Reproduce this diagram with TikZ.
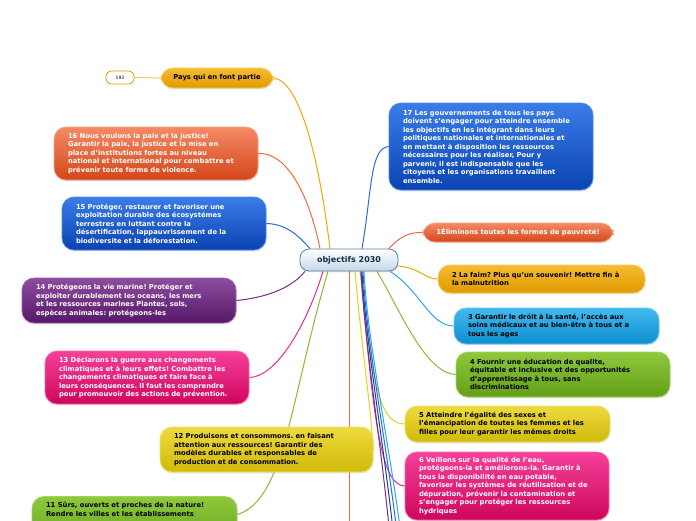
\documentclass[tikz,border=0pt]{standalone}
\usepackage{fontspec}
\setmainfont{DejaVu Sans}
\frenchspacing
\usetikzlibrary{shadows,backgrounds}
\definecolor{orT}{HTML}{F6BC30}\definecolor{orB}{HTML}{E09A00}\definecolor{orD}{HTML}{F8CA58}
\definecolor{rdT}{HTML}{F58A65}\definecolor{rdB}{HTML}{D4461A}\definecolor{rdD}{HTML}{F5A585}
\definecolor{blT}{HTML}{3A7CE8}\definecolor{blB}{HTML}{0A44B2}\definecolor{blD}{HTML}{4A88EE}
\definecolor{puT}{HTML}{8E4C9E}\definecolor{puB}{HTML}{561868}\definecolor{puD}{HTML}{9A5EAA}
\definecolor{pkT}{HTML}{F5409A}\definecolor{pkB}{HTML}{CE065C}\definecolor{pkD}{HTML}{F76AB0}
\definecolor{yeT}{HTML}{EEDA3E}\definecolor{yeB}{HTML}{D0BA0A}\definecolor{yeD}{HTML}{F2E060}
\definecolor{grT}{HTML}{8EC83C}\definecolor{grB}{HTML}{62A018}\definecolor{grD}{HTML}{A2D45A}
\definecolor{cyT}{HTML}{42BAF0}\definecolor{cyB}{HTML}{0E8ECE}\definecolor{cyD}{HTML}{62C8F4}
\definecolor{ceB}{HTML}{C4D8E8}\definecolor{ceD}{HTML}{5E82A0}\definecolor{ceTx}{HTML}{14304F}
\definecolor{lnOr}{HTML}{F2A800}\definecolor{lnRd}{HTML}{EE6A40}\definecolor{lnBl}{HTML}{2A6AE0}
\definecolor{lnPu}{HTML}{74307E}\definecolor{lnPk}{HTML}{EE2A86}\definecolor{lnYe}{HTML}{E6D020}
\definecolor{lnGr}{HTML}{84BE30}\definecolor{lnCy}{HTML}{2AA8E8}
\begin{document}
\begin{tikzpicture}[x=1pt,y=-1pt,
  goal/.style={rounded corners=12pt, align=left, inner xsep=14pt, inner ysep=0pt,
    font=\bfseries\fontsize{6.8}{8.5}\selectfont, line width=0.7pt,
    drop shadow={opacity=0.22,shadow xshift=0.6pt,shadow yshift=-1.4pt}},
  cOr/.style={top color=orT, bottom color=orB, draw=orD, text=black},
  cRd/.style={top color=rdT, bottom color=rdB, draw=rdD, text=white},
  cBl/.style={top color=blT, bottom color=blB, draw=blD, text=white},
  cPu/.style={top color=puT, bottom color=puB, draw=puD, text=white},
  cPk/.style={top color=pkT, bottom color=pkB, draw=pkD, text=white},
  cYe/.style={top color=yeT, bottom color=yeB, draw=yeD, text=black},
  cGr/.style={top color=grT, bottom color=grB, draw=grD, text=black},
  cCy/.style={top color=cyT, bottom color=cyB, draw=cyD, text=black},
  link/.style={line width=1pt},
]
\useasboundingbox (0,0) rectangle (696,520);

% central node
\node[rounded corners=9pt, minimum width=98pt, minimum height=22pt, inner sep=0pt,
  top color=white, bottom color=ceB, draw=ceD, line width=0.8pt, text=ceTx,
  font=\bfseries\fontsize{8}{10}\selectfont,
  drop shadow={opacity=0.2,shadow xshift=0.6pt,shadow yshift=-1.4pt}] (c) at (349,260) {objectifs 2030};

% left side
\node[rounded corners=5pt, draw=orB, fill=white, line width=0.8pt, minimum width=28pt, minimum height=13pt, inner sep=0pt,
  font=\fontsize{4.5}{5}\selectfont] (n193) at (120,77.5) {193};
\node[goal, cOr, minimum width=112pt, minimum height=20pt, align=center, inner xsep=4pt] (pays) at (217,78) {Pays qui en font partie};
\node[goal, cRd, text width=176pt, minimum height=53pt] (n16) at (156,153.5) {16 Nous voulons la paix et la justice!\\Garantir la paix, la justice et la mise en\\place d'institutions fortes au niveau\\national et international pour combattre et\\prévenir toute forme de violence.};
\node[goal, cBl, text width=176pt, minimum height=53pt] (n15) at (164,223.5) {15 Protéger, restaurer et favoriser une\\exploitation durable des écosystémes\\terrestres en luttant contre la\\désertification, lappauvrissement de la\\biodiversite et la déforestation.};
\node[goal, cPu, text width=186pt, minimum height=45pt] (n14) at (129,300.5) {14 Protégeons la vie marine! Protéger et\\exploiter durablement les oceans, les mers\\et les ressources marines Plantes, sols,\\espèces animales: protégeons-les};
\node[goal, cPk, text width=176pt, minimum height=53pt] (n13) at (147,377.5) {13 Déclarons la guerre aux changements\\climatiques et à leurs effets! Combattre les\\changements climatiques et faire face à\\leurs conséquences. Il faut les comprendre\\pour promouvoir des actions de prévention.};
\node[goal, cYe, text width=185pt, minimum height=45pt] (n12) at (266.5,449.5) {12 Produisons et consommons. en faisant\\attention aux ressources! Garantir des\\modèles durables et responsables de\\production et de consommation.};
\node[goal, cGr, inner ysep=6pt] (n11) at (134.5,523.5) {\parbox[c][42pt][t]{177pt}{11 Sûrs, ouverts et proches de la nature!\\Rendre les villes et les établissements}};

% right side
\node[goal, cBl, text width=176pt, minimum height=87pt] (n17) at (491,146.5) {17 Les gouvernements de tous les pays\\doivent s'engager pour atteindre ensemble\\les objectifs en les intégrant dans leurs\\politiques nationales et internationales et\\en mettant à disposition les ressources\\nécessaires pour les réaliser, Pour y\\parvenir, il est indispensable que les\\citoyens et les organisations travaillent\\ensemble.};
\node[goal, cRd, minimum width=190pt, minimum height=19pt, align=center, inner xsep=4pt] (n1) at (518,232.5) {1Éliminons toutes les formes de pauvreté!};
\node[goal, cOr, text width=179pt, minimum height=28pt] (n2) at (541.5,279) {2 La faim? Plus qu'un souvenir! Mettre fin à\\la malnutrition};
\node[goal, cCy, text width=177pt, minimum height=36pt] (n3) at (556.5,326) {3 Garantir le dróit à la santé, l'accès aux\\soins médicaux et au bien-être à tous et a\\tous les ages};
\node[goal, cGr, text width=186pt, minimum height=45pt] (n4) at (563,374.5) {4 Fournir une éducation de qualite,\\équitable et inclusive et des opportunités\\d'apprentissage à tous, sans\\discriminations};
\node[goal, cYe, text width=177pt, minimum height=36pt] (n5) at (507.5,424) {5 Atteindre l'égalité des sexes et\\l'émancipation de toutes les femmes et les\\filles pour leur garantir les mêmes droits};
\node[goal, cPk, text width=176pt, minimum height=68pt] (n6) at (507,486) {6 Veillons sur la qualité de l'eau,\\protégeons-la et améliorons-la. Garantir à\\tous la disponibilité en eau potable,\\favoriser les systèmes de réutilisation et de\\dépuration, prévenir la contamination et\\s'engager pour protéger les ressources\\hydriques};

% off-page branch ends
\coordinate (d10) at (349,560);
\coordinate (d9) at (392,560);
\coordinate (d8) at (396,560);
\coordinate (d7) at (400,560);
\coordinate (d6) at (404,560);

\begin{pgfonlayer}{background}
\draw[link, draw=orD] (n193.east) -- (pays.west);
% upper-left exits
\draw[link, draw=lnOr] ([xshift=-19pt]c.north) .. controls (318,150) and (298,80) .. (pays.east);
\draw[link, draw=lnRd] ([xshift=-29pt]c.north) .. controls (308,190) and (285,152) .. (n16.east);
\draw[link, draw=lnBl] ([xshift=-39pt]c.north) .. controls (298,235) and (286,224) .. (n15.east);
\draw[link, draw=lnBl] ([xshift=13pt]c.north) .. controls (372,190) and (370,148) .. (n17.west);
\draw[link, draw=lnRd] ([xshift=39pt,yshift=-1pt]c.north) .. controls (400,236) and (410,232) .. (n1.west);
% lower-left exits
\draw[link, draw=lnPu] ([xshift=-44pt]c.south) .. controls (290,290) and (262,298) .. (n14.east);
\draw[link, draw=lnPk] ([xshift=-26pt]c.south) .. controls (305,330) and (275,377) .. (n13.east);
\draw[link, draw=lnGr] ([xshift=-21pt]c.south) .. controls (290,400) and (285,500) .. (n11.5);
\draw[link, draw=lnRd] (c.south) -- (d10);
\draw[link, draw=lnYe] ([xshift=6pt]c.south) .. controls (362,350) and (370,400) .. (n12.east);
% lower-right exits
\draw[link, draw=lnOr] ([yshift=-6pt]c.east) .. controls (420,268) and (425,279) .. (n2.west);
\draw[link, draw=lnCy] ([xshift=41pt]c.south) .. controls (420,290) and (430,326) .. (n3.west);
\draw[link, draw=lnGr] ([xshift=28pt]c.south) .. controls (400,310) and (425,373) .. (n4.west);
\draw[link, draw=lnYe] ([xshift=11pt]c.south) .. controls (373,380) and (378,424) .. (n5.west);
\draw[link, draw=lnPk] ([xshift=12pt]c.south) .. controls (374,440) and (384,485) .. (n6.west);
% bundle towards branches below the page
\draw[link, draw=lnPu] ([xshift=12pt]c.south) .. controls (365,350) and (384,460) .. (d9);
\draw[link, draw=blB] ([xshift=13pt]c.south) .. controls (366,350) and (387,460) .. (d8);
\draw[link, draw=lnBl] ([xshift=14pt]c.south) .. controls (367,350) and (390,460) .. (d7);
\draw[link, draw=lnCy] ([xshift=15pt]c.south) .. controls (368,350) and (393,460) .. (d6);
\end{pgfonlayer}
\end{tikzpicture}
\end{document}
